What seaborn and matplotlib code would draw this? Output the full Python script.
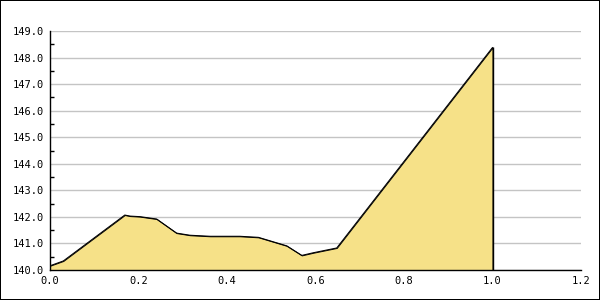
import matplotlib
matplotlib.use("Agg")
import matplotlib.pyplot as plt
import seaborn as sns
import pandas as pd
from matplotlib.ticker import MultipleLocator, FormatStrFormatter

x_vals = [0.0, 0.030, 0.169, 0.181, 0.203, 0.241, 0.286, 0.316, 0.362, 0.429, 0.471, 0.535, 0.569, 0.595, 0.648, 1.0]
y_vals = [140.16, 140.34, 142.07, 142.03, 142.01, 141.92, 141.39, 141.31, 141.27, 141.27, 141.23, 140.91, 140.55, 140.65, 140.83, 148.38]

df = pd.DataFrame({"x": x_vals, "y": y_vals})

sns.set_style("white")
plt.rcParams["font.family"] = ["DejaVu Sans Mono"]

fig = plt.figure(figsize=(6, 3), dpi=100, linewidth=1.2, edgecolor="black")
ax = fig.add_axes([50/600, 30/300, 531/600, 239/300])

base = 140.0
ax.fill_between(df["x"], df["y"], base, color="#F6E188", edgecolor="black", linewidth=0.7, zorder=2)
sns.lineplot(data=df, x="x", y="y", ax=ax, color="black", linewidth=0.75, zorder=3)
ax.vlines(df["x"].iloc[-1], base, df["y"].iloc[-1], color="black", linewidth=1.0, zorder=3)

ax.set_xlim(0, 1.2)
ax.set_ylim(140, 149)
ax.xaxis.set_major_locator(MultipleLocator(0.2))
ax.xaxis.set_major_formatter(FormatStrFormatter("%.1f"))
ax.yaxis.set_major_locator(MultipleLocator(1.0))
ax.yaxis.set_minor_locator(MultipleLocator(0.5))
ax.yaxis.set_major_formatter(FormatStrFormatter("%.1f"))

ax.grid(axis="y", which="major", color="#C4C4C4", linewidth=1.0, zorder=0)
ax.set_axisbelow(True)
for s in ["top", "right"]:
    ax.spines[s].set_visible(False)
for s in ["left", "bottom"]:
    ax.spines[s].set_color("black")
    ax.spines[s].set_linewidth(1.0)

ax.tick_params(axis="both", which="major", direction="in", length=5, width=1, color="black", labelsize=7.5, labelcolor="black", pad=4)
ax.tick_params(axis="y", which="minor", direction="in", length=3, width=1, color="black", left=True)
ax.set_xlabel("")
ax.set_ylabel("")

fig.savefig("out.png", dpi=100)
